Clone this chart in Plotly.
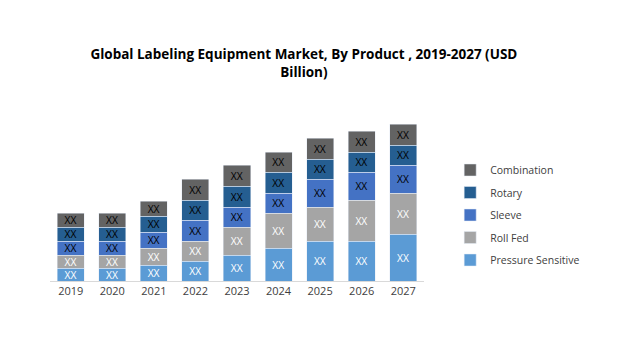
import plotly.graph_objects as go

years = ["2019", "2020", "2021", "2022", "2023", "2024", "2025", "2026", "2027"]
pressure_sensitive = [1.3, 1.3, 1.6, 2.0, 2.6, 3.3, 4.0, 4.0, 4.7]
roll_fed = [1.3, 1.3, 1.7, 2.0, 2.8, 3.5, 3.4, 4.1, 4.1]
sleeve = [1.4, 1.4, 1.6, 2.1, 2.0, 2.0, 2.8, 2.8, 2.8]
rotary = [1.4, 1.4, 1.6, 2.0, 2.1, 2.1, 2.0, 2.0, 2.0]
combination = [1.4, 1.4, 1.5, 2.1, 2.1, 2.0, 2.1, 2.1, 2.1]
labels = ["XX"] * len(years)

series = [
    ("Pressure Sensitive", pressure_sensitive, "#5B9BD5", "white"),
    ("Roll Fed", roll_fed, "#A5A5A5", "white"),
    ("Sleeve", sleeve, "#4472C4", "black"),
    ("Rotary", rotary, "#255E91", "black"),
    ("Combination", combination, "#636363", "black"),
]

fig = go.Figure()
for i, (name, vals, color, tcolor) in enumerate(series):
    fig.add_trace(go.Bar(
        x=years, y=vals, name=name, marker_color=color,
        text=labels, textposition="inside", insidetextanchor="middle",
        textangle=0, textfont=dict(color=tcolor, size=11, family="Open Sans"),
        legendgroup=name, legendrank=1000 - i, hoverinfo="skip",
    ))

fig.update_layout(
    barmode="stack",
    bargap=0.35,
    width=624, height=350,
    margin=dict(l=50, r=200, t=81, b=69),
    paper_bgcolor="white", plot_bgcolor="white",
    title=dict(
        text="<b>Global Labeling Equipment Market, By Product , 2019-2027 (USD<br>Billion)</b>",
        x=0.487, xanchor="center", y=0.831, yanchor="middle",
        font=dict(family="Open Sans", size=13.5, color="black"),
    ),
    font=dict(family="Open Sans", size=11, color="#404040"),
    uniformtext=dict(minsize=10, mode="show"),
    xaxis=dict(showline=True, linecolor="#D9D9D9", linewidth=1, ticks="",
               tickfont=dict(size=11, color="#404040")),
    yaxis=dict(visible=False, range=[0, 20]),
    legend=dict(
        x=1.07, xanchor="left", y=0.33, yanchor="middle",
        traceorder="grouped", tracegroupgap=3.5, itemwidth=30,
        font=dict(size=10.5, color="#404040"),
    ),
    showlegend=True,
)

fig.write_html("out.html")
